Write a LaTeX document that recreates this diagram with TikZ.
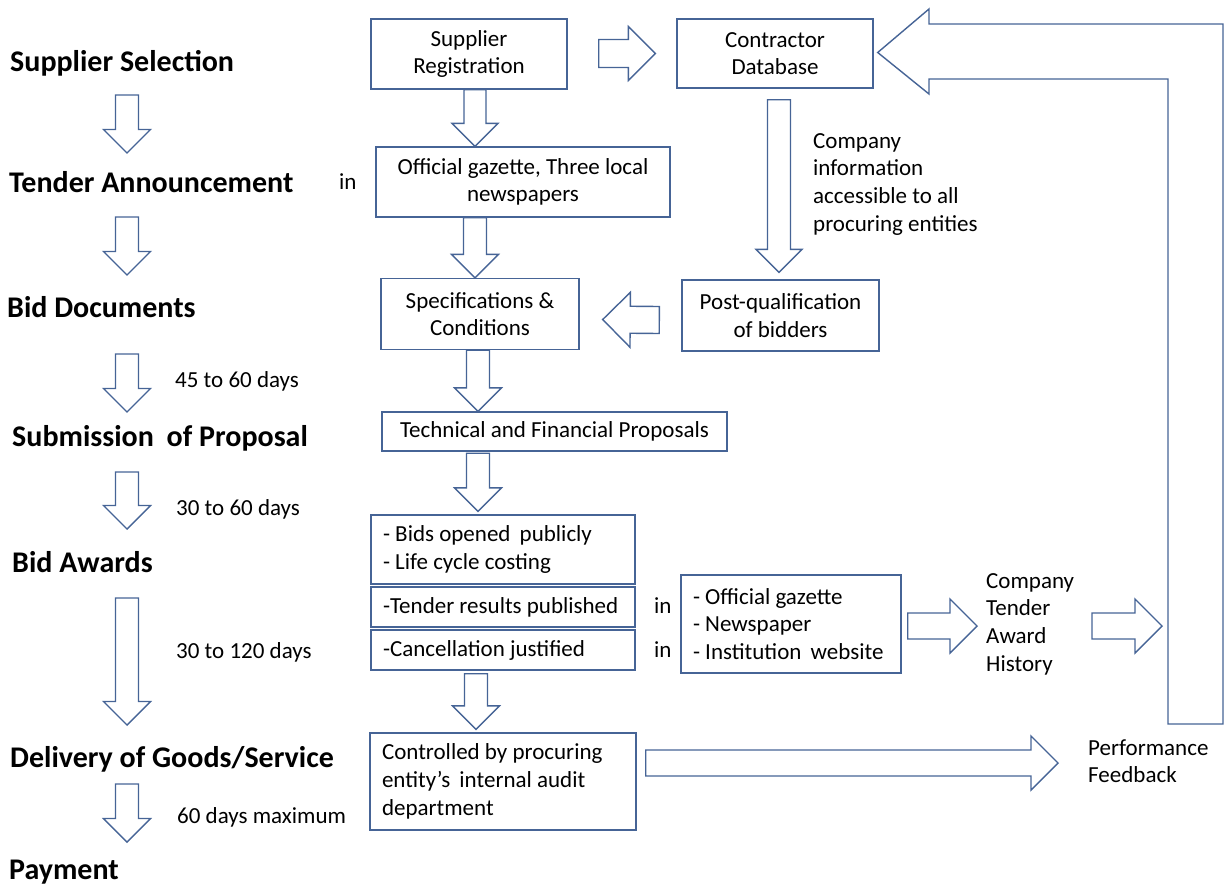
\documentclass[tikz,border=0pt]{standalone}
\usepackage{fontspec}
\setmainfont{Carlito}
\usetikzlibrary{calc,positioning}
\definecolor{boxblue}{RGB}{70,100,150}
\newcommand{\txtfont}{\fontsize{23}{27.7}\selectfont}
\newcommand{\lblfont}{\fontsize{30}{34}\selectfont\bfseries}
\tikzset{%
	box/.style   = {draw=boxblue, line width=1.4pt, rectangle, inner sep=0pt, font=\txtfont, align=center},
	lbox/.style  = {box, align=flush left, inner xsep=12pt, text width=240pt}, % left aligned text
	stage/.style = {font=\lblfont, inner sep=0pt, anchor=base west},
	note/.style  = {font=\txtfont, inner sep=0pt, anchor=base west},
	mnote/.style = {font=\txtfont, inner sep=0pt, anchor=north west, align=left},
	flow/.style  = {draw=boxblue, line width=1.4pt, fill=white, line join=miter},
}
% hollow block arrow: tail, tip, half shaft width, half head width
\newcommand{\blockarrow}[4]{%
	\draw[flow] let \p1=(#1), \p2=(#2),
		\n1={atan2(\y2-\y1,\x2-\x1)}, \n2={veclen(\x2-\x1,\y2-\y1)} in
		[shift={(\p1)}, rotate=\n1]
		(0pt,#3pt) -- ({\n2*1pt-#4pt},#3pt) -- ({\n2*1pt-#4pt},#4pt) -- ({\n2*1pt},0pt)
		-- ({\n2*1pt-#4pt},-#4pt) -- ({\n2*1pt-#4pt},-#3pt) -- (0pt,-#3pt) -- cycle;}

\begin{document}
\begin{tikzpicture}[x=1pt,y=-1pt]
	\useasboundingbox (0,0) rectangle (1225,886);
	
	% stages
	\node [stage] (sel) at (10,71) {Supplier Selection};
	\node [stage] (ten) at (9,192) {Tender Announcement};
	\node [stage] (bid) at (7,317) {Bid Documents};
	\node [stage] (sub) at (12,446) {Submission\hspace{6pt} of Proposal};
	\node [stage] (awd) at (12,572) {Bid Awards};
	\node [stage] (del) at (10,767) {Delivery of Goods/Service};
	\node [stage] (pay) at (9,879) {Payment};
	\coordinate (colx) at (127,0);
	
	\node [note] (in1) at (339,189) {in};
	\node [note] (d1) at (175,387) {45 to 60 days};
	\node [note] (d2) at (176,515) {30 to 60 days};
	\node [note] (d3) at (176,658) {30 to 120 days};
	\node [note] (d4) at (177,823) {60 days maximum};
	
	% boxes
	\node [box, minimum width=196pt, minimum height=70pt] (supreg) at (469,54) {Supplier\\Registration};
	\node [box, minimum width=196pt, minimum height=69pt] (condb) at (775,53.5) {Contractor\\Database};
	\node [box, minimum width=294pt, minimum height=70pt] (offg) at (523,182) {Official gazette, Three local\\newspapers};
	\node [box, minimum width=198pt, minimum height=71pt] (spec) at (480,314) {Specifications \&\\Conditions};
	\node [box, minimum width=197pt, minimum height=71pt] (postq) at (780.5,315.5) {Post-qualification\\of bidders};
	\node [box, minimum width=345pt, minimum height=39pt] (tech) at (554.5,431.5) {Technical and Financial Proposals};
	\node [lbox, minimum height=69pt] (bids1) at (503,549.5) {- Bids opened\hspace{4pt} publicly\\- Life cycle costing};
	\node [lbox, minimum height=40pt] (bids2) at (503,607) {-Tender results published};
	\node [lbox, minimum height=40pt] (bids3) at (503,650) {-Cancellation justified};
	\node [lbox, text width=196pt, minimum height=98pt] (list) at (791,624) {- Official gazette\\- Newspaper\\- Institution\hspace{4pt} website};
	\node [lbox, text width=242pt, minimum height=97pt] (ctrl) at (503,781.5) {Controlled by procuring\\entity’s\hspace{4pt} internal audit\\department};
	
	\node [note] (in2) at (654,613) {in};
	\node [note] (in3) at (654,657) {in};
	\node [mnote] (info) at (813,128.6) {\strut Company\\information\\accessible to all\\procuring entities};
	\node [mnote] (hist) at (986,568.6) {\strut Company\\Tender\\Award\\History};
	\node [mnote] (perf) at (1088,735.6) {\strut Performance\\Feedback};
	
	% stage arrows
	\foreach \a/\b/\s/\t in {sel/ten/24/39, ten/bid/25/42, bid/sub/37/34, sub/awd/26/43, awd/del/26/42, del/pay/17/37}
		{\blockarrow{$(colx |- \a.base)+(0,\s)$}{$(colx |- \b.base)+(0,-\t)$}{11.5}{23.5}}
	
	% process arrows
	\blockarrow{[shift={(6,0)}]supreg.south}{[shift={(-48,0)}]offg.north}{11}{23}
	\blockarrow{[shift={(31,-0.5)}]supreg.east}{[shift={(-21,0)}]condb.west}{14}{27}
	\blockarrow{[shift={(-48,0)}]offg.south}{[shift={(-5,0)}]spec.north}{11.5}{23.5}
	\blockarrow{[shift={(4,11)}]condb.south}{[shift={(-1.5,-7)}]postq.north}{11.5}{23}
	\blockarrow{[shift={(-22,4.5)}]postq.west}{[shift={(23,5.5)}]spec.east}{13.5}{27.5}
	\blockarrow{[shift={(-2,0)}]spec.south}{[shift={(-76.5,0)}]tech.north}{11.5}{23.5}
	\blockarrow{[shift={(-76.5,1.5)}]tech.south}{[shift={(-25,-3)}]bids1.north}{11.5}{23.5}
	\blockarrow{[shift={(-27,3)}]bids3.south}{[shift={(-27,-3)}]ctrl.north}{11.5}{23.5}
	\blockarrow{[shift={(9,-18.5)}]ctrl.east}{$(ctrl.east -| perf.west)+(-30,-18.5)$}{13}{27}
	
	% feedback loop
	\coordinate (fbl) at (1168,724);
	\coordinate (fbtip) at ([shift={(4,-1)}]condb.east);
	\blockarrow{[shift={(6,2)}]list.east}{$(list.east -| hist.west)+(-9,2)$}{13}{27}
	\blockarrow{$(list.east -| fbl)+(-76,2)$}{$(list.east -| fbl)+(-6,2)$}{13}{27}
	\draw [flow] (fbl) -- (1168,79) -- (929,79) -- (929,94) -- (fbtip) -- (929,9) -- (929,24) -- (1223,24) -- (1223,724) -- cycle;
\end{tikzpicture}
\end{document}
